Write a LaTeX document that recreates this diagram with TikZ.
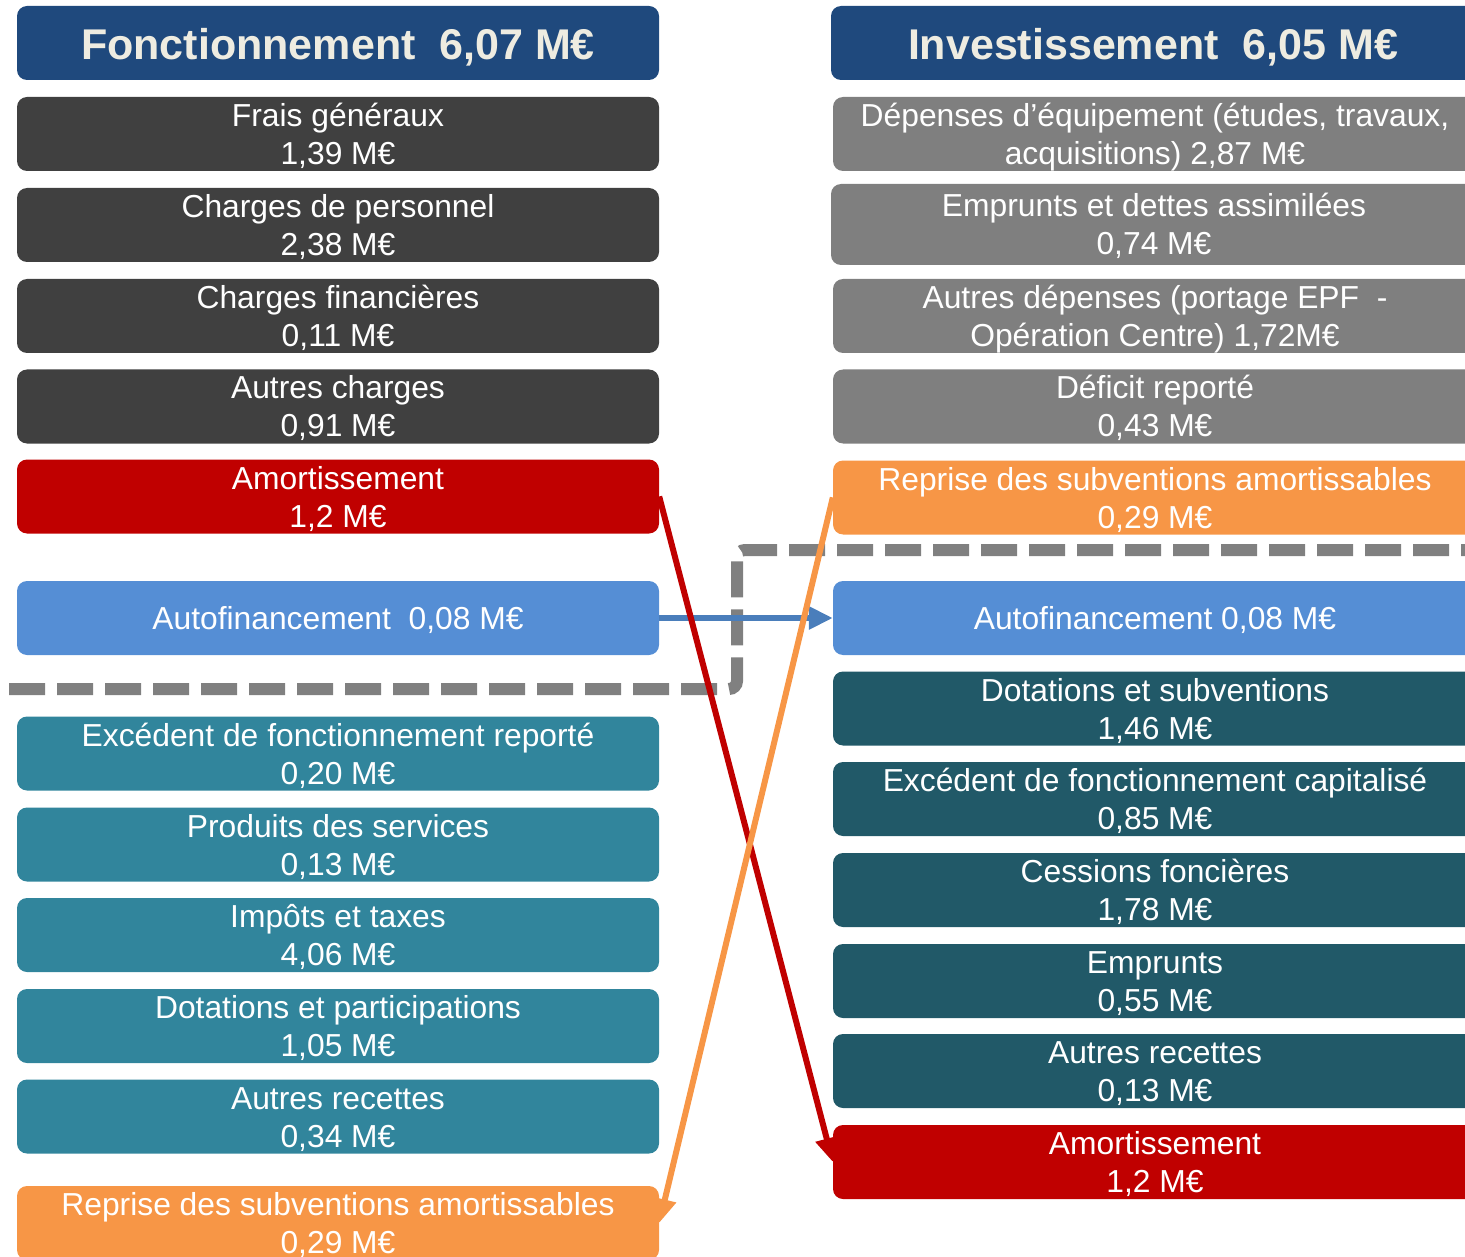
\documentclass[tikz,border=0pt]{standalone}
\usepackage{fontspec}
\setmainfont{Liberation Sans}
\usetikzlibrary{arrows.meta}

\definecolor{headblue}{HTML}{1F497D}
\definecolor{headtext}{HTML}{EEECE1}
\definecolor{darkgray}{HTML}{404040}
\definecolor{midgray}{HTML}{7F7F7F}
\definecolor{amred}{HTML}{C00000}
\definecolor{afblue}{HTML}{558ED5}
\definecolor{afarrow}{HTML}{4A7EBB}
\definecolor{recteal}{HTML}{31859C}
\definecolor{invteal}{HTML}{215968}
\definecolor{suborange}{HTML}{F79646}
\definecolor{dashgray}{HTML}{808080}

% two centred lines, padded so that the pair sits slightly low in its box
\newcommand\boxtwo[2]{\begin{tabular}{@{}c@{}}\rule{0pt}{34.5pt}#1\\#2\rule[-11.5pt]{0pt}{0pt}\end{tabular}}
% one centred line
\newcommand\boxone[1]{\begin{tabular}{@{}c@{}}\rule{0pt}{34pt}#1\rule[-12pt]{0pt}{0pt}\end{tabular}}

\tikzset{
  box/.style={rounded corners=10pt, inner xsep=0pt, inner ysep=-5pt, text=white,
    minimum height=74pt,
    font=\fontsize{31.8}{38}\selectfont},
  lbox/.style={box, minimum width=642pt},
  rbox/.style={box, minimum width=644pt},
  headbox/.style={fill=headblue, text=headtext, inner ysep=0pt, font=\fontsize{43}{48}\selectfont\bfseries,
    execute at begin node={\rule{0pt}{44pt}},
    execute at end node={\rule[-10pt]{0pt}{0pt}}},
  flow/.style={line width=6pt, -{Triangle[length=24pt,width=22pt]}},
  sepline/.style={draw=dashgray, line width=12pt, dash pattern=on 36pt off 12pt, rounded corners=8pt}
}

\begin{document}
\begin{tikzpicture}[x=1pt,y=-1pt]
\useasboundingbox (0,0) rectangle (1465,1257);
\clip (0,0) rectangle (1465,1257);

% ---- Fonctionnement ----
\node[lbox, headbox] (hL) at (338,43) {Fonctionnement\ \ 6,07 M€};
\node[lbox, fill=darkgray] (l1) at (338,134) {\boxtwo{Frais généraux}{1,39 M€}};
\node[lbox, fill=darkgray] (l2) at (338,225) {\boxtwo{Charges de personnel}{2,38 M€}};
\node[lbox, fill=darkgray] (l3) at (338,316) {\boxtwo{Charges financières}{0,11 M€}};
\node[lbox, fill=darkgray] (l4) at (338,406.5) {\boxtwo{Autres charges}{0,91 M€}};
\node[lbox, fill=amred] (amL) at (338,496.5) {\boxtwo{Amortissement}{1,2 M€}};
\node[lbox, fill=afblue] (afL) at (338,618) {\boxone{Autofinancement\ \ 0,08 M€}};
\node[lbox, fill=recteal] (l5) at (338,753.5) {\boxtwo{Excédent de fonctionnement reporté}{0,20 M€}};
\node[lbox, fill=recteal] (l6) at (338,844.5) {\boxtwo{Produits des services}{0,13 M€}};
\node[lbox, fill=recteal] (l7) at (338,935) {\boxtwo{Impôts et taxes}{4,06 M€}};
\node[lbox, fill=recteal] (l8) at (338,1026) {\boxtwo{Dotations et participations}{1,05 M€}};
\node[lbox, fill=recteal] (l9) at (338,1116.5) {\boxtwo{Autres recettes}{0,34 M€}};
\node[lbox, fill=suborange] (repL) at (338,1223) {\boxtwo{Reprise des subventions amortissables}{0,29 M€}};

% ---- Investissement ----
\node[rbox, headbox] (hR) at (1153,43) {Investissement\ \ 6,05 M€};
\node[rbox, fill=midgray] (r1) at (1155,134) {\boxtwo{Dépenses d’équipement (études, travaux,}{acquisitions) 2,87 M€}};
\node[rbox, fill=midgray, minimum height=81pt, minimum width=646pt] (r2) at (1154,224.5) {\boxtwo{Emprunts et dettes assimilées}{0,74 M€}};
\node[rbox, fill=midgray] (r3) at (1155,316) {\boxtwo{Autres dépenses (portage EPF\ \ -}{Opération Centre) 1,72M€}};
\node[rbox, fill=midgray] (r4) at (1155,406.5) {\boxtwo{Déficit reporté}{0,43 M€}};
\node[rbox, fill=suborange] (repR) at (1155,497.5) {\boxtwo{Reprise des subventions amortissables}{0,29 M€}};
\node[rbox, fill=afblue] (afR) at (1155,618) {\boxone{Autofinancement 0,08 M€}};
\node[rbox, fill=invteal] (r5) at (1155,708.5) {\boxtwo{Dotations et subventions}{1,46 M€}};
\node[rbox, fill=invteal] (r6) at (1155,799) {\boxtwo{Excédent de fonctionnement capitalisé}{0,85 M€}};
\node[rbox, fill=invteal] (r7) at (1155,890) {\boxtwo{Cessions foncières}{1,78 M€}};
\node[rbox, fill=invteal] (r8) at (1155,981) {\boxtwo{Emprunts}{0,55 M€}};
\node[rbox, fill=invteal] (r9) at (1155,1071) {\boxtwo{Autres recettes}{0,13 M€}};
\node[rbox, fill=amred] (amR) at (1155,1162) {\boxtwo{Amortissement}{1,2 M€}};

% ---- separation of the self-financing block ----
\coordinate (sepA) at (9,689);
\coordinate (sepB) at (737,689);
\coordinate (sepC) at (737,550);
\coordinate (sepD) at (1470,550);
\draw[sepline] (sepA) -- (sepB) -- (sepC) -- (sepD);

% ---- flows between sections ----
\draw[flow, afarrow] (afL.east) -- (afR.west);
\draw[flow, amred] (amL.east) -- (amR.west);
\draw[flow, suborange] (repR.west) -- (repL.east);
\end{tikzpicture}
\end{document}
